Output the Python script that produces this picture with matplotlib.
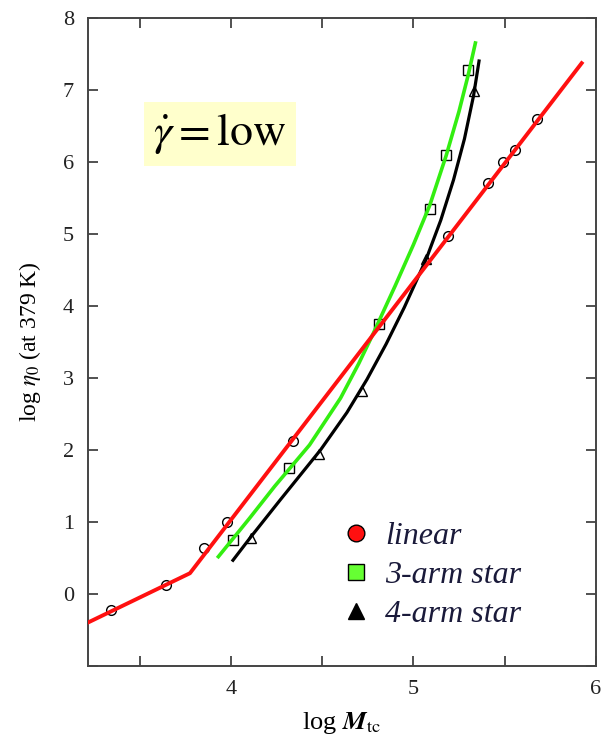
import numpy as np
import matplotlib
matplotlib.use('Agg')
import matplotlib.pyplot as plt
from matplotlib.lines import Line2D

plt.rcParams['font.family'] = ['Liberation Serif', 'DejaVu Serif']
plt.rcParams['mathtext.fontset'] = 'stix'

# measured points (log Mw, log eta0)
lin_x = [3.34, 3.64, 3.85, 3.98, 4.34, 4.81, 5.19, 5.41, 5.49, 5.56, 5.68]
lin_y = [-0.22, 0.13, 0.64, 1.00, 2.12, 3.75, 4.97, 5.70, 6.00, 6.16, 6.60]

arm3_x = [4.01, 4.32, 4.81, 5.09, 5.18, 5.30]
arm3_y = [0.75, 1.75, 3.75, 5.35, 6.09, 7.27]

arm4_x = [4.11, 4.48, 4.72, 5.07, 5.33]
arm4_y = [0.78, 1.94, 2.82, 4.65, 6.98]

# fitted curves
lin_fit_x = [3.21, 3.774, 5.923]
lin_fit_y = [-0.40, 0.29, 7.37]

arm3_fit_x = [3.93, 4.10, 4.24, 4.43, 4.60, 4.70, 4.78, 4.90, 5.00, 5.09, 5.18, 5.25, 5.30, 5.34]
arm3_fit_y = [0.52, 1.05, 1.50, 2.07, 2.72, 3.20, 3.62, 4.28, 4.85, 5.40, 6.09, 6.70, 7.20, 7.65]

arm4_fit_x = [4.01, 4.11, 4.27, 4.49, 4.635, 4.745, 4.85, 4.95, 5.07, 5.15, 5.22, 5.28, 5.33, 5.36]
arm4_fit_y = [0.47, 0.80, 1.31, 2.00, 2.52, 2.98, 3.47, 3.98, 4.65, 5.19, 5.75, 6.32, 6.92, 7.40]

fig = plt.figure(figsize=(6.06, 7.41), dpi=100)
ax = fig.add_axes([0.145, 0.101, 0.838, 0.875])

# open data markers
mk = dict(linestyle='none', markerfacecolor='white', markeredgecolor='black',
          markeredgewidth=1.0, markersize=7, zorder=2)
ax.plot(lin_x, lin_y, marker='o', **mk)
ax.plot(arm3_x, arm3_y, marker='s', **mk)
ax.plot(arm4_x, arm4_y, marker='^', **mk)

ax.plot(arm4_fit_x, arm4_fit_y, color='black', lw=2.3, zorder=3, solid_joinstyle='round')
ax.plot(arm3_fit_x, arm3_fit_y, color='#33ee11', lw=2.6, zorder=4, solid_joinstyle='round')
ax.plot(lin_fit_x, lin_fit_y, color='#ff1010', lw=2.8, zorder=5, solid_joinstyle='round')

ax.set_xlim(3.214, 6.0)
ax.set_ylim(-1, 8)
ax.set_xticks([3.5, 4, 4.5, 5, 5.5, 6])
ax.set_xticklabels(['', '4', '', '5', '', '6'])
ax.set_yticks(range(-1, 9))
ax.set_yticklabels([''] + [str(i) for i in range(0, 9)])
ax.tick_params(direction='in', length=7, width=1.2, labelsize=16,
               top=True, right=True, colors='#333333', labelcolor='#222222', pad=10)
for s in ax.spines.values():
    s.set_linewidth(1.4)
    s.set_color('#444444')

ax.set_xlabel(r'log $\boldsymbol{M}_{\mathrm{tc}}$', fontsize=19, labelpad=8)
ax.set_ylabel(r'log $\eta_0$ (at 379 K)', fontsize=17, labelpad=14)

ax.text(0.26, 0.821, r'$\dot{\gamma} = \mathrm{low}$', transform=ax.transAxes,
        fontsize=33, ha='center', va='center',
        bbox=dict(boxstyle='square,pad=0.2', facecolor='#ffffcc', edgecolor='none'))

handles = [
    Line2D([], [], marker='o', ls='none', markerfacecolor='#ff1010', markeredgecolor='black', markersize=12),
    Line2D([], [], marker='s', ls='none', markerfacecolor='#66ff33', markeredgecolor='black', markersize=11),
    Line2D([], [], marker='^', ls='none', markerfacecolor='black', markeredgecolor='black', markersize=12),
]
leg = ax.legend(handles, ['linear', '3-arm star', '4-arm star'], loc='lower left',
                bbox_to_anchor=(0.466, 0.033), frameon=False, borderpad=0,
                handlelength=1.0, handletextpad=0.4,
                labelspacing=0.3, prop={'style': 'italic', 'size': 23})
for t in leg.get_texts():
    t.set_color('#1a1a3a')

fig.savefig('out.png', dpi=100)
